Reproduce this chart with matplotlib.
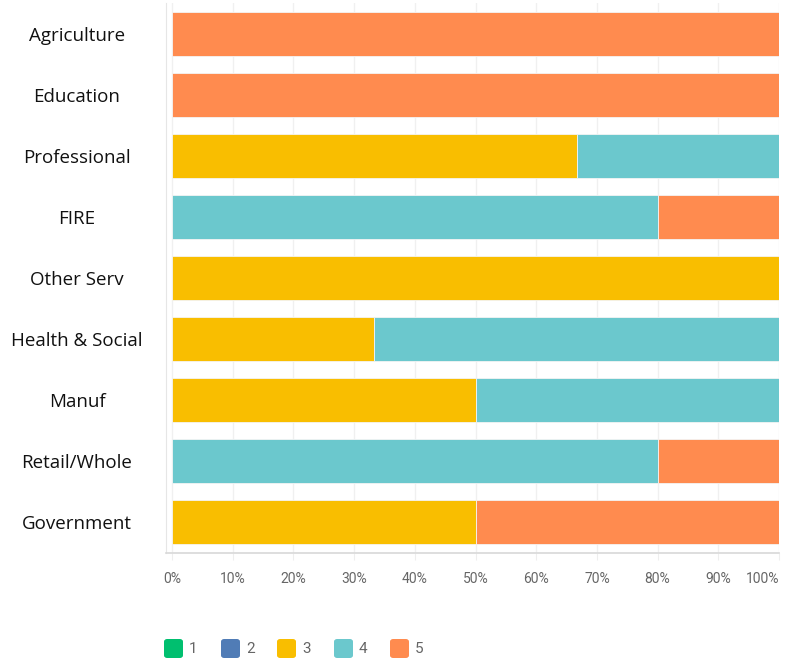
import numpy as np
import matplotlib.pyplot as plt
from matplotlib.patches import FancyBboxPatch
from matplotlib.transforms import blended_transform_factory

categories = ["Agriculture", "Education", "Professional", "FIRE", "Other Serv",
              "Health & Social", "Manuf", "Retail/Whole", "Government"]
levels = ["1", "2", "3", "4", "5"]
colors = ["#00BF6F", "#507CB6", "#F9BE00", "#6BC8CD", "#FF8B4F"]

# percentage of responses per rating, one list per rating level
pct_1 = [0, 0, 0, 0, 0, 0, 0, 0, 0]
pct_2 = [0, 0, 0, 0, 0, 0, 0, 0, 0]
pct_3 = [0, 0, 66.67, 0, 100, 33.33, 50, 0, 50]
pct_4 = [0, 0, 33.33, 80, 0, 66.67, 50, 80, 0]
pct_5 = [100, 100, 0, 20, 0, 0, 0, 20, 50]
xticks = [0, 10, 20, 30, 40, 50, 60, 70, 80, 90, 100]

series = [pct_1, pct_2, pct_3, pct_4, pct_5]

fig = plt.figure(figsize=(7.91, 6.62), dpi=100)
ax = fig.add_axes([166 / 791, 1 - 553 / 662, (779 - 166) / 791, 550 / 662])

y = np.arange(len(categories))
left = np.zeros(len(categories))
for vals, c in zip(series, colors):
    vals = np.array(vals, dtype=float)
    ax.barh(y, vals, left=left, height=0.72, color=c, edgecolor="#f4f4f4",
            linewidth=0.6, zorder=3)
    left += vals

ax.set_ylim(len(categories) - 0.5, -0.5)
ax.set_xlim(-1, 100)
ax.set_yticks(y)
ax.set_yticklabels([])
ax.tick_params(axis="y", length=0)
# category names centred in the left margin
trans = blended_transform_factory(fig.transFigure, ax.transData)
for yi, name in zip(y, categories):
    ax.text(77 / 791, yi, name, transform=trans, fontsize=13.5,
            family="Open Sans", color="#111111", ha="center",
            va="center_baseline")

ax.set_xticks(xticks)
ax.set_xticklabels([f"{t}%" for t in xticks], fontsize=10, color="#666666",
                   family="Roboto")
lbls = ax.get_xticklabels()
lbls[-1].set_ha("right")
ax.tick_params(axis="x", length=5, color="#eeeeee", pad=9)
ax.grid(axis="x", color="#f0f0f0", linewidth=1, zorder=0)

for s in ["top", "right"]:
    ax.spines[s].set_visible(False)
ax.spines["left"].set_color("#e6e6e6")
ax.spines["bottom"].set_color("#d8d8d8")
ax.spines["bottom"].set_linewidth(1.2)
ax.spines["left"].set_position(("data", -1))

# legend row along the bottom
lx = [164, 221, 277, 334, 390]
for x0, lab, c in zip(lx, levels, colors):
    box = FancyBboxPatch((x0 / 791, 1 - 658 / 662), 19 / 791, 19 / 662,
                         boxstyle="round,pad=0,rounding_size=0.004",
                         transform=fig.transFigure, facecolor=c,
                         edgecolor="none")
    fig.patches.append(box)
    fig.text((x0 + 25) / 791, 1 - 649 / 662, lab, fontsize=11, color="#666666",
             family="Roboto", va="center", ha="left")

fig.savefig("out.png", dpi=100)
